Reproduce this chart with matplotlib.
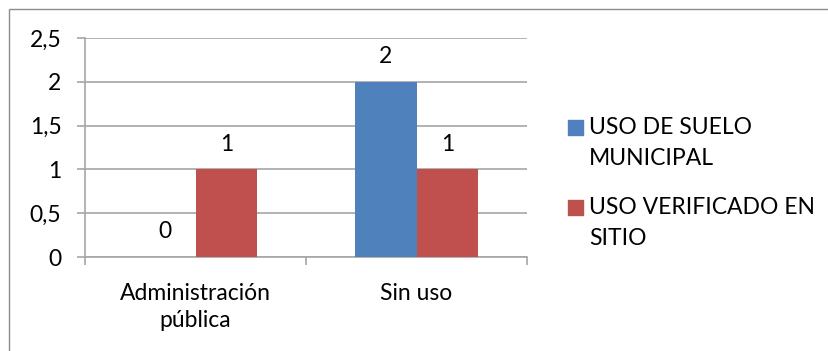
import matplotlib
matplotlib.use("Agg")
import matplotlib.pyplot as plt
from matplotlib.patches import Rectangle

categories = ["Administración\npública", "Sin uso"]
series_names = ["USO DE SUELO\nMUNICIPAL", "USO VERIFICADO EN\nSITIO"]
suelo_municipal = [0, 2]
verificado_sitio = [1, 1]
y_ticks = [0, 0.5, 1, 1.5, 2, 2.5]
y_tick_labels = ["0", "0,5", "1", "1,5", "2", "2,5"]

BLUE = "#4f81bd"
RED = "#c0504d"
GRID = "#a6a6a6"

plt.rcParams["font.family"] = ["Lato", "DejaVu Sans"]
FS = 16.5

fig = plt.figure(figsize=(8.29, 3.51), dpi=100)
W, H = 829, 351

# outer chart frame (only top/left edges fall inside the canvas)
fig.patches.append(Rectangle((9 / W, -0.1), 1.2, 1 - 9 / H + 0.1,
                             transform=fig.transFigure, fill=False,
                             edgecolor="#8c8c8c", linewidth=1.0))

ax = fig.add_axes([85 / W, 1 - 257 / H, (527 - 85) / W, (257 - 38) / H])

width = 0.28
xs = range(len(categories))
b1 = ax.bar([x - width / 2 for x in xs], suelo_municipal, width, color=BLUE, zorder=3)
b2 = ax.bar([x + width / 2 for x in xs], verificado_sitio, width, color=RED, zorder=3)

for bars, vals in ((b1, suelo_municipal), (b2, verificado_sitio)):
    for rect, v in zip(bars, vals):
        ax.annotate(f"{v}", (rect.get_x() + rect.get_width() / 2, v),
                    xytext=(0, 18), textcoords="offset points",
                    ha="center", va="center", fontsize=FS)

ax.set_xlim(-0.5, len(categories) - 0.5)
ax.set_ylim(0, 2.5)
ax.set_yticks(y_ticks)
ax.set_yticklabels(y_tick_labels)
ax.yaxis.grid(True, color=GRID, linewidth=1.2, zorder=0)
ax.tick_params(axis="y", length=6, width=1.2, color=GRID, pad=11, labelsize=FS)

# category boundaries get tick marks, names sit on minor ticks
ax.set_xticks([-0.5, 0.5, 1.5])
ax.set_xticklabels([])
ax.tick_params(axis="x", which="major", length=6, width=1.2, color=GRID)
ax.set_xticks(list(xs), minor=True)
ax.set_xticklabels(categories, minor=True, fontsize=FS, linespacing=1.35)
ax.tick_params(axis="x", which="minor", length=0, pad=19)

for s in ("top", "right"):
    ax.spines[s].set_visible(False)
for s in ("left", "bottom"):
    ax.spines[s].set_color(GRID)
    ax.spines[s].set_linewidth(1.2)

# legend: colour square beside the first line of each wrapped label
leg_x, sq = 568, 15
entry_tops = [120, 200]
line_gap = 31
for color, name, top in zip([BLUE, RED], series_names, entry_tops):
    fig.patches.append(Rectangle((leg_x / W, 1 - (top + sq) / H), sq / W, sq / H,
                                 transform=fig.transFigure, color=color))
    for i, line in enumerate(name.split("\n")):
        yc = top + sq / 2 + i * line_gap
        fig.text((leg_x + sq + 6) / W, 1 - yc / H, line, fontsize=FS,
                 ha="left", va="center")

fig.savefig("out.png", dpi=100)
